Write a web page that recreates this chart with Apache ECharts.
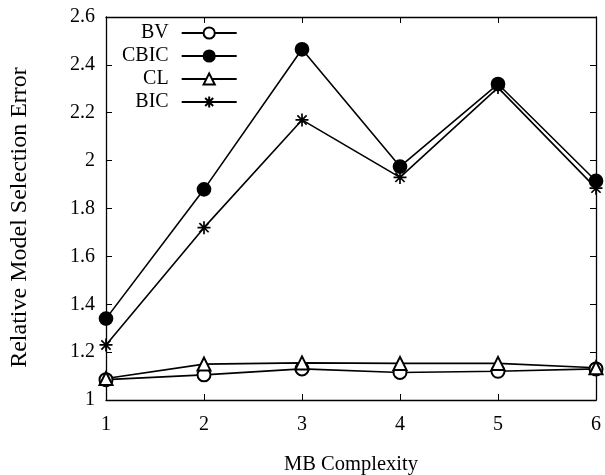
<!DOCTYPE html>
<html><head><meta charset="utf-8">
<script src="https://cdn.jsdelivr.net/npm/echarts@6/dist/echarts.min.js"></script>
<style>html,body{margin:0;padding:0;background:#fff}#c{width:605px;height:475px}</style>
</head><body><div id="c"></div>
<script>
const complexity = [1, 2, 3, 4, 5, 6];
const bv   = [1.085, 1.105, 1.13, 1.115, 1.12, 1.13];
const cbic = [1.34, 1.88, 2.465, 1.975, 2.32, 1.915];
const cl   = [1.09, 1.15, 1.155, 1.153, 1.153, 1.135];
const bic  = [1.23, 1.72, 2.17, 1.93, 2.305, 1.885];
const seriesNames = ['BV', 'CBIC', 'CL', 'BIC'];

const font = 'Liberation Serif';
const asterisk = 'path://M10,0L10,20M0,10L20,10M2.9,2.9L17.1,17.1M2.9,17.1L17.1,2.9';
const pair = a => complexity.map((x, i) => [x, a[i]]);

function mk(name, data, symbol, size) {
  return {
    name, type: 'line', data: pair(data), symbol, symbolSize: size,
    lineStyle: { color: '#000', width: 1.6 },
    itemStyle: { color: '#000', borderColor: '#000', borderWidth: 1.7 },
    emphasis: { disabled: true }, animation: false, z: 3
  };
}

const chart = echarts.init(document.getElementById('c'));
chart.setOption({
  animation: false,
  textStyle: { fontFamily: font, color: '#000' },
  grid: { left: 106, right: 9, top: 17, bottom: 75, show: false, outerBoundsMode: 'none', containLabel: false },
  legend: {
    orient: 'vertical', left: 117, top: 18, align: 'right',
    itemWidth: 55, itemHeight: 14, itemGap: 3,
    textStyle: { fontFamily: font, fontSize: 20, color: '#000', padding: [0, 8, 0, 0] },
    data: seriesNames.map(n => ({ name: n }))
  },
  xAxis: [{
    type: 'value', min: 1, max: 6, interval: 1,
    name: 'MB Complexity', nameLocation: 'middle', nameGap: 54,
    nameTextStyle: { fontFamily: font, fontSize: 20.5, color: '#000' },
    axisLine: { show: true, lineStyle: { color: '#000', width: 1.3 } },
    axisTick: { inside: true, length: 6, lineStyle: { color: '#000' } },
    axisLabel: { fontFamily: font, fontSize: 20, color: '#000', margin: 15 },
    splitLine: { show: false }
  }, {
    type: 'value', min: 1, max: 6, interval: 1, position: 'top',
    axisLine: { show: true, onZero: false, lineStyle: { color: '#000', width: 1.3 } },
    axisTick: { inside: true, length: 6, lineStyle: { color: '#000' } },
    axisLabel: { show: false }, splitLine: { show: false }
  }],
  yAxis: [{
    type: 'value', min: 1, max: 2.6, interval: 0.2,
    name: 'Relative Model Selection Error', nameLocation: 'middle', nameGap: 74,
    nameTextStyle: { fontFamily: font, fontSize: 24, color: '#000', padding: [0, 18, 0, 0] },
    axisLine: { show: true, lineStyle: { color: '#000', width: 1.3 } },
    axisTick: { inside: true, length: 6, lineStyle: { color: '#000' } },
    axisLabel: { fontFamily: font, fontSize: 20, color: '#000', margin: 11,
      formatter: v => String(Math.round(v * 10) / 10) },
    splitLine: { show: false }
  }, {
    type: 'value', min: 1, max: 2.6, interval: 0.2, position: 'right',
    axisLine: { show: true, onZero: false, lineStyle: { color: '#000', width: 1.3 } },
    axisTick: { inside: true, length: 6, lineStyle: { color: '#000' } },
    axisLabel: { show: false }, splitLine: { show: false }
  }],
  series: [
    mk('BV', bv, 'emptyCircle', 13),
    mk('CBIC', cbic, 'circle', 13),
    mk('CL', cl, 'emptyTriangle', 13),
    mk('BIC', bic, asterisk, 13)
  ]
});
</script></body></html>
